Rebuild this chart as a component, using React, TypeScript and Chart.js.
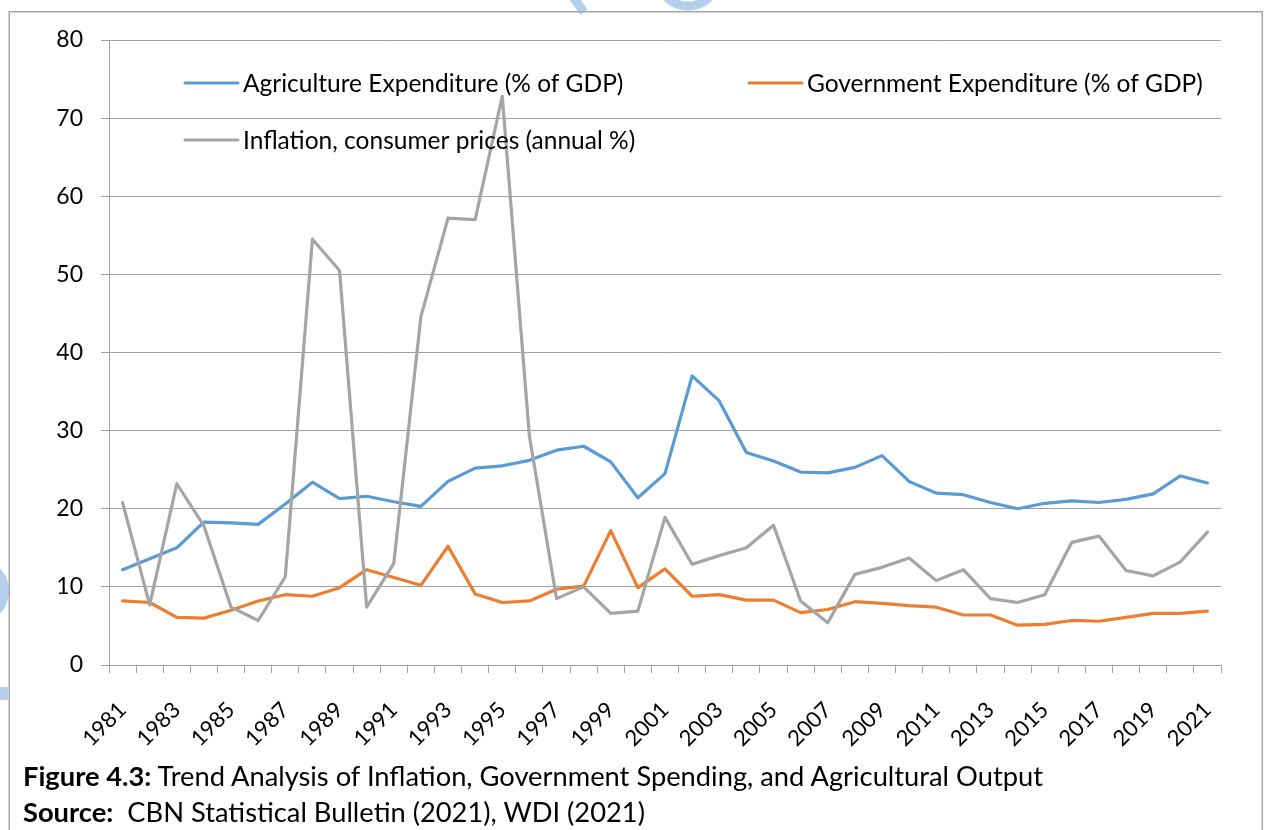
import React, { useEffect, useRef } from 'react';
import { Chart, registerables } from 'chart.js';

Chart.register(...registerables);

const YEARS: string[] = [
  '1981', '1982', '1983', '1984', '1985', '1986', '1987', '1988', '1989', '1990',
  '1991', '1992', '1993', '1994', '1995', '1996', '1997', '1998', '1999', '2000',
  '2001', '2002', '2003', '2004', '2005', '2006', '2007', '2008', '2009', '2010',
  '2011', '2012', '2013', '2014', '2015', '2016', '2017', '2018', '2019', '2020', '2021',
];

const SERIES_NAMES: string[] = [
  'Agriculture Expenditure (% of GDP)',
  'Government Expenditure (% of GDP)',
  'Inflation, consumer prices (annual %)',
];

const AGRI: number[] = [
  12.2, 13.6, 15.0, 18.3, 18.2, 18.0, 20.6, 23.4, 21.3, 21.6,
  20.9, 20.3, 23.5, 25.2, 25.5, 26.2, 27.5, 28.0, 26.0, 21.4,
  24.5, 37.0, 33.8, 27.2, 26.1, 24.7, 24.6, 25.3, 26.8, 23.5,
  22.0, 21.8, 20.8, 20.0, 20.7, 21.0, 20.8, 21.2, 21.9, 24.2, 23.3,
];

const GOV: number[] = [
  8.2, 8.0, 6.1, 6.0, 7.0, 8.2, 9.0, 8.8, 9.9, 12.2,
  11.2, 10.2, 15.2, 9.1, 8.0, 8.2, 9.7, 10.1, 17.2, 9.9,
  12.3, 8.8, 9.0, 8.3, 8.3, 6.7, 7.1, 8.1, 7.9, 7.6,
  7.4, 6.4, 6.4, 5.1, 5.2, 5.7, 5.6, 6.1, 6.6, 6.6, 6.9,
];

const INFL: number[] = [
  20.8, 7.7, 23.2, 17.8, 7.4, 5.7, 11.3, 54.5, 50.5, 7.4,
  13.0, 44.6, 57.2, 57.0, 72.8, 29.3, 8.5, 10.0, 6.6, 6.9,
  18.9, 12.9, 14.0, 15.0, 17.9, 8.2, 5.4, 11.6, 12.5, 13.7,
  10.8, 12.2, 8.5, 8.0, 9.0, 15.7, 16.5, 12.1, 11.4, 13.2, 17.0,
];

const Y_TICKS: number[] = [0, 10, 20, 30, 40, 50, 60, 70, 80];

const COLORS = ['#5b9bd5', '#ed7d31', '#a5a5a5'];
const GRID = '#a0a0a0';
const FONT = 'Lato';

const decorPlugin = {
  id: 'decor',
  beforeDraw(chart: any) {
    const ctx = chart.ctx as CanvasRenderingContext2D;
    ctx.save();
    ctx.fillStyle = '#ffffff';
    ctx.fillRect(0, 0, chart.width, chart.height);
    // faint watermark fragments
    ctx.strokeStyle = '#b3cfec';
    ctx.lineWidth = 9;
    ctx.beginPath();
    ctx.arc(688, -24, 30, 0, Math.PI);
    ctx.stroke();
    ctx.beginPath();
    ctx.moveTo(572, -4);
    ctx.lineTo(584, 12);
    ctx.stroke();
    ctx.lineWidth = 10;
    ctx.beginPath();
    ctx.arc(-24, 591, 28, -Math.PI / 2, Math.PI / 2);
    ctx.stroke();
    ctx.fillStyle = '#b3cfec';
    ctx.fillRect(0, 687, 8, 13);
    ctx.restore();
  },
  afterDraw(chart: any) {
    const ctx = chart.ctx as CanvasRenderingContext2D;
    const area = chart.chartArea;
    ctx.save();
    // outer border
    ctx.strokeStyle = '#a6a6a6';
    ctx.lineWidth = 1.5;
    ctx.strokeRect(9.25, 11.75, 1253, 900);
    // legend
    const slots = [
      { x: area.left + 76, y: area.top + 43 },
      { x: area.left + 640, y: area.top + 43 },
      { x: area.left + 76, y: area.top + 100 },
    ];
    ctx.font = `24.5px ${FONT}`;
    ctx.textBaseline = 'middle';
    ctx.textAlign = 'left';
    chart.data.datasets.forEach((ds: any, i: number) => {
      const s = slots[i];
      ctx.strokeStyle = ds.borderColor;
      ctx.lineWidth = 3;
      ctx.lineCap = 'round';
      ctx.beginPath();
      ctx.moveTo(s.x, s.y);
      ctx.lineTo(s.x + 53, s.y);
      ctx.stroke();
      ctx.fillStyle = '#000000';
      ctx.fillText(ds.label, s.x + 58, s.y + 1);
    });
    ctx.restore();
  },
};

export default function App() {
  const ref = useRef<HTMLCanvasElement>(null);

  useEffect(() => {
    const canvas = ref.current;
    if (!canvas) return;
    const chart = new Chart(canvas, {
      type: 'line',
      data: {
        labels: YEARS,
        datasets: [
          { label: SERIES_NAMES[0], data: AGRI, borderColor: COLORS[0], order: 2 },
          { label: SERIES_NAMES[1], data: GOV, borderColor: COLORS[1], order: 1 },
          { label: SERIES_NAMES[2], data: INFL, borderColor: COLORS[2], order: 0 },
        ].map((d) => ({
          ...d,
          backgroundColor: d.borderColor,
          borderWidth: 3.2,
          pointRadius: 0,
          pointHoverRadius: 0,
          tension: 0,
          fill: false,
          borderJoinStyle: 'round' as const,
          borderCapStyle: 'round' as const,
        })),
      },
      options: {
        responsive: false,
        animation: false,
        devicePixelRatio: 1,
        layout: { padding: { left: 0, right: 48, top: 40, bottom: 0 } },
        plugins: {
          legend: { display: false },
          tooltip: { enabled: false },
          title: { display: false },
        },
        scales: {
          x: {
            type: 'category',
            offset: true,
            grid: {
              offset: true,
              drawOnChartArea: false,
              drawTicks: true,
              tickLength: 8,
              color: GRID,
              lineWidth: 1,
            },
            border: { display: true, color: GRID, width: 1 },
            ticks: {
              autoSkip: false,
              minRotation: 45,
              maxRotation: 45,
              padding: 24,
              color: '#000000',
              font: { family: FONT, size: 22 },
              callback: (_v: any, i: number) => (i % 2 === 0 ? YEARS[i] : ''),
            },
            afterFit: (s: any) => {
              s.height = 165;
            },
          },
          y: {
            min: Y_TICKS[0],
            max: Y_TICKS[Y_TICKS.length - 1],
            afterBuildTicks: (s: any) => {
              s.ticks = Y_TICKS.map((v) => ({ value: v }));
            },
            grid: {
              color: GRID,
              lineWidth: 1,
              drawTicks: true,
              tickLength: 8,
            },
            border: { display: true, color: GRID, width: 1 },
            ticks: {
              padding: 18,
              color: '#000000',
              font: { family: FONT, size: 23 },
            },
            afterFit: (s: any) => {
              s.width = 109;
            },
          },
        },
      },
      plugins: [decorPlugin],
    });
    return () => chart.destroy();
  }, []);

  return (
    <div
      style={{
        position: 'absolute',
        left: 0,
        top: 0,
        width: 1269,
        height: 830,
        background: '#ffffff',
        overflow: 'hidden',
      }}
    >
      <canvas ref={ref} width={1269} height={830} style={{ position: 'absolute', left: 0, top: 0 }} />
      <div
        style={{
          position: 'absolute',
          left: 23,
          top: 758,
          fontFamily: FONT,
          fontSize: 27.3,
          lineHeight: '36px',
          color: '#000000',
          whiteSpace: 'nowrap',
        }}
      >
        <div>
          <b>Figure 4.3:</b> Trend Analysis of Inflation, Government Spending, and Agricultural Output
        </div>
        <div>
          <b>Source:</b>&nbsp; CBN Statistical Bulletin (2021), WDI (2021)
        </div>
      </div>
    </div>
  );
}
